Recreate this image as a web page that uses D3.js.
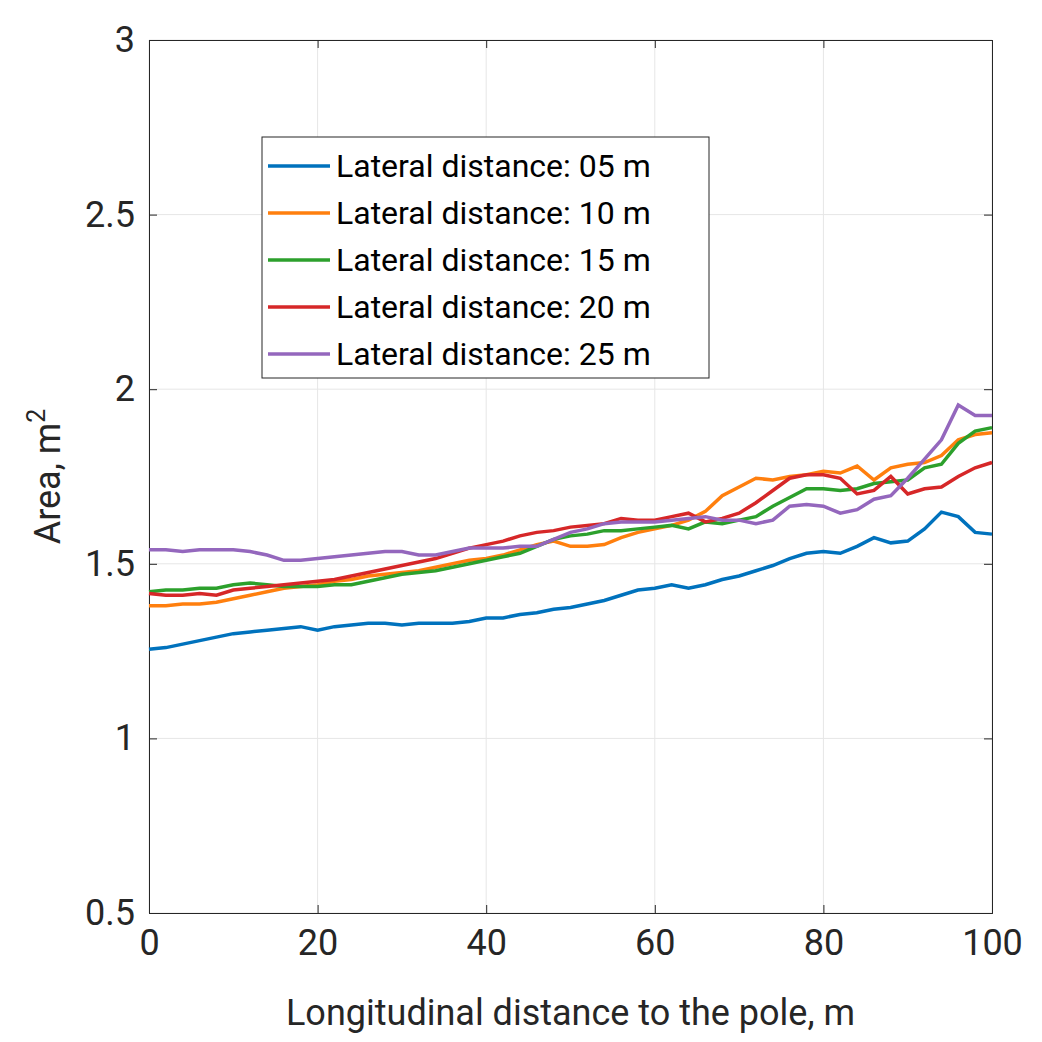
<!DOCTYPE html><html><head><meta charset="utf-8">
<script src="https://cdn.jsdelivr.net/npm/d3@7"></script>
<style>body{margin:0;background:#fff}svg{font-family:Roboto,"Noto Sans",sans-serif}</style></head><body>
<svg id="c" width="1042" height="1042"></svg>
<script>
const xs = d3.range(0, 101, 2);
const s05 = [1.255,1.26,1.27,1.28,1.29,1.30,1.305,1.31,1.315,1.32,1.31,1.32,1.325,1.33,1.33,1.325,1.33,1.33,1.33,1.335,1.345,1.345,1.355,1.36,1.37,1.375,1.385,1.395,1.41,1.425,1.43,1.44,1.43,1.44,1.455,1.465,1.48,1.495,1.515,1.53,1.535,1.53,1.55,1.575,1.56,1.565,1.60,1.648,1.635,1.59,1.585];
const s10 = [1.38,1.38,1.385,1.385,1.39,1.40,1.41,1.42,1.43,1.435,1.44,1.45,1.455,1.465,1.47,1.475,1.48,1.49,1.50,1.51,1.515,1.525,1.54,1.555,1.565,1.55,1.55,1.555,1.575,1.59,1.60,1.61,1.625,1.65,1.695,1.72,1.745,1.74,1.75,1.755,1.765,1.76,1.78,1.74,1.775,1.785,1.79,1.81,1.855,1.87,1.875];
const s15 = [1.42,1.425,1.425,1.43,1.43,1.44,1.445,1.44,1.435,1.435,1.435,1.44,1.44,1.45,1.46,1.47,1.475,1.48,1.49,1.5,1.51,1.52,1.53,1.55,1.57,1.58,1.585,1.595,1.595,1.60,1.605,1.61,1.60,1.62,1.615,1.625,1.635,1.665,1.69,1.715,1.715,1.71,1.715,1.73,1.735,1.74,1.775,1.785,1.845,1.88,1.89];
const s20 = [1.415,1.41,1.41,1.415,1.41,1.425,1.43,1.435,1.44,1.445,1.45,1.455,1.465,1.475,1.485,1.495,1.505,1.515,1.53,1.545,1.555,1.565,1.58,1.59,1.595,1.605,1.61,1.615,1.63,1.625,1.625,1.635,1.645,1.62,1.63,1.645,1.675,1.71,1.745,1.755,1.755,1.745,1.70,1.71,1.75,1.70,1.715,1.72,1.75,1.775,1.79];
const s25 = [1.54,1.54,1.535,1.54,1.54,1.54,1.535,1.525,1.51,1.51,1.515,1.52,1.525,1.53,1.535,1.535,1.525,1.525,1.535,1.545,1.545,1.545,1.55,1.55,1.57,1.59,1.60,1.615,1.62,1.62,1.62,1.625,1.63,1.635,1.625,1.625,1.615,1.625,1.665,1.67,1.665,1.645,1.655,1.685,1.695,1.745,1.80,1.855,1.955,1.925,1.925];
const names = ["Lateral distance: 05 m","Lateral distance: 10 m","Lateral distance: 15 m","Lateral distance: 20 m","Lateral distance: 25 m"];
const colors = ["#0072BD","#FF7F0E","#2CA02C","#D62728","#9467BD"];
const series = [s05,s10,s15,s20,s25];
const xTicks = [0,20,40,60,80,100];
const yTicks = [0.5,1,1.5,2,2.5,3];

const svg = d3.select("#c");
const L=149,R=992,T=40,B=913;
const x = d3.scaleLinear().domain([0,100]).range([L,R]);
const y = d3.scaleLinear().domain([0.5,3]).range([B,T]);
const g = svg.append("g");
g.selectAll(".gx").data(xTicks).join("line").attr("x1",d=>x(d)).attr("x2",d=>x(d)).attr("y1",T).attr("y2",B).attr("stroke","#e6e6e6");
g.selectAll(".gy").data(yTicks).join("line").attr("y1",d=>y(d)).attr("y2",d=>y(d)).attr("x1",L).attr("x2",R).attr("stroke","#e6e6e6");
svg.append("g").attr("transform",`translate(0,${B})`).call(d3.axisBottom(x).tickValues(xTicks).tickSize(-8).tickPadding(16));
svg.append("g").attr("transform",`translate(${L},0)`).call(d3.axisLeft(y).tickValues(yTicks).tickFormat(d3.format("")).tickSize(-8).tickPadding(14));
svg.append("g").attr("transform",`translate(0,${T})`).call(d3.axisTop(x).tickValues(xTicks).tickSize(-8).tickFormat(""));
svg.append("g").attr("transform",`translate(${R},0)`).call(d3.axisRight(y).tickValues(yTicks).tickSize(-8).tickFormat(""));
svg.selectAll(".domain").attr("stroke","#262626");
svg.selectAll(".tick line").attr("stroke","#262626");
svg.selectAll(".tick text").attr("font-size",36).attr("fill","#262626").attr("font-family","Roboto,sans-serif");
const line = d3.line().x((d,i)=>x(xs[i])).y(d=>y(d));
series.forEach((s,i)=>svg.append("path").datum(s).attr("d",line).attr("fill","none").attr("stroke",colors[i]).attr("stroke-width",3.5));
svg.append("text").attr("x",(L+R)/2).attr("y",1025).attr("text-anchor","middle").attr("font-size",36).attr("fill","#262626").text("Longitudinal distance to the pole, m");
const yl = svg.append("text").attr("transform",`translate(60,${(T+B)/2}) rotate(-90)`).attr("text-anchor","middle").attr("font-size",36).attr("fill","#262626");
yl.append("tspan").text("Area, m");
yl.append("tspan").attr("font-size",25).attr("dy",-15).text("2");
const lg = svg.append("g");
lg.append("rect").attr("x",262).attr("y",137).attr("width",447).attr("height",241).attr("fill","#fff").attr("stroke","#262626");
names.forEach((n,i)=>{
  const yy=166+i*47;
  lg.append("line").attr("x1",268).attr("x2",330).attr("y1",yy).attr("y2",yy).attr("stroke",colors[i]).attr("stroke-width",3.5);
  lg.append("text").attr("x",336).attr("y",yy+11).attr("font-size",32).attr("fill","#000").text(n);
});
</script></body></html>
